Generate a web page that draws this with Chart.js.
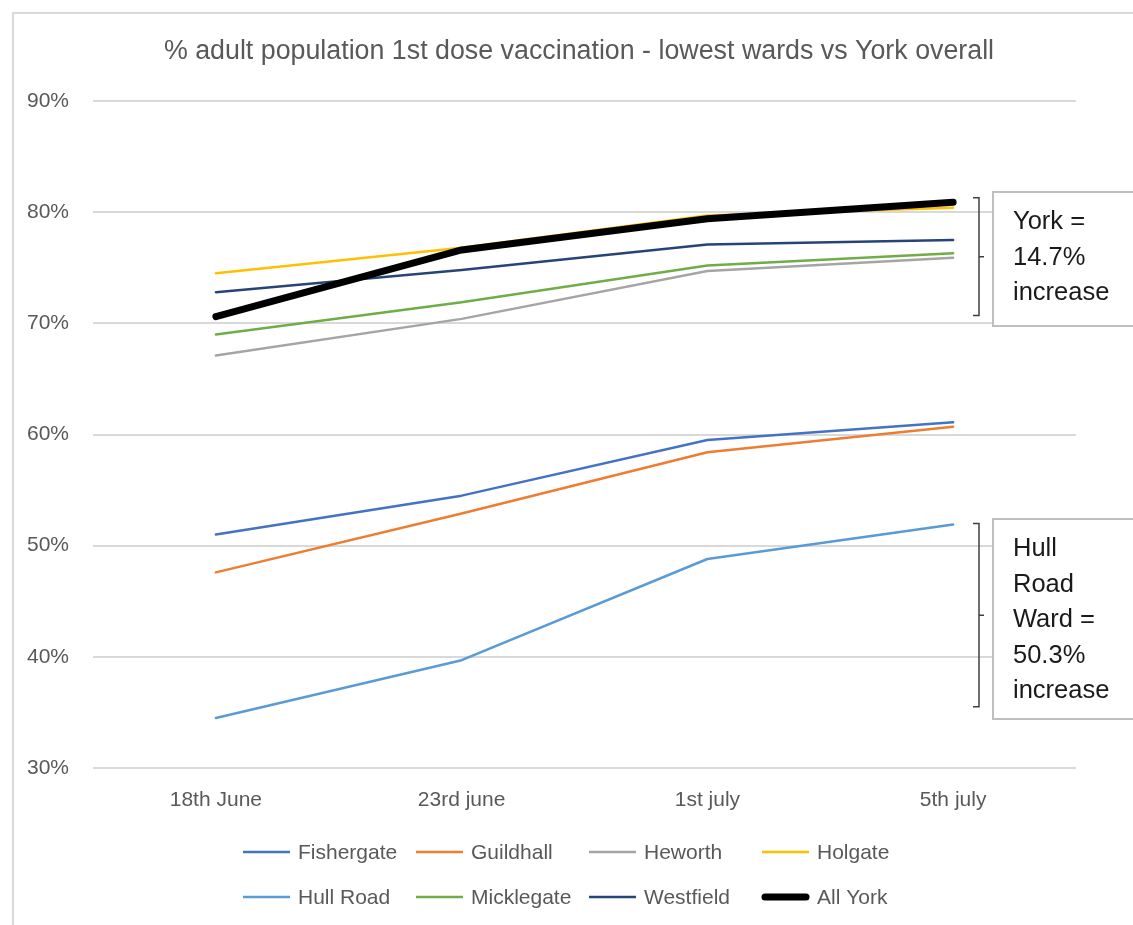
<!DOCTYPE html>
<html>
<head>
<meta charset="utf-8">
<script src="https://cdn.jsdelivr.net/npm/chart.js@4/dist/chart.umd.min.js"></script>
<style>
	html, body { margin:0; padding:0; background:#fff; overflow:hidden; width:1133px; height:925px; }
	#marco { position:absolute; left:12px; top:12px; width:1200px; height:1000px; border-left:2px solid #d9d9d9; border-top:2px solid #d9d9d9; }
	#contenedor { position:absolute; left:0; top:0; width:1133px; height:925px; }
</style>
</head>
<body>
<div id="marco"></div>
<div id="contenedor"><canvas id="chart" width="1133" height="925"></canvas></div>
<script>
	// DATOS
	var fechas = ['18th June', '23rd june', '1st july', '5th july'];
	var fishergate = [51.0, 54.5, 59.5, 61.1];
	var guildhall = [47.6, 52.9, 58.4, 60.7];
	var heworth = [67.1, 70.4, 74.7, 75.9];
	var holgate = [74.5, 76.8, 79.7, 80.4];
	var hullRoad = [34.5, 39.7, 48.8, 51.9];
	var micklegate = [69.0, 71.9, 75.2, 76.3];
	var westfield = [72.8, 74.8, 77.1, 77.5];
	var allYork = [70.6, 76.6, 79.4, 80.9];
	var ticksY = [30, 40, 50, 60, 70, 80, 90];

	var fuente = '"Liberation Sans", Arial, sans-serif';

	function serie(nombre, valores, color, grosor){
		return {
			label: nombre,
			data: valores,
			borderColor: color,
			backgroundColor: color,
			borderWidth: grosor,
			pointRadius: 0,
			tension: 0,
			borderCapStyle: 'round',
			borderJoinStyle: 'round'
		};
	}

	var series = [
		serie('Fishergate', fishergate, '#4472C4', 2.5),
		serie('Guildhall', guildhall, '#ED7D31', 2.5),
		serie('Heworth', heworth, '#A5A5A5', 2.5),
		serie('Holgate', holgate, '#FFC000', 2.5),
		serie('Hull Road', hullRoad, '#5B9BD5', 2.5),
		serie('Micklegate', micklegate, '#70AD47', 2.5),
		serie('Westfield', westfield, '#264478', 2.5),
		serie('All York', allYork, '#000000', 7)
	];
	series[7].order = -1; // la linea de York encima

	// TITULO
	var titulo = {
		id: 'titulo',
		afterDraw: function(chart){
			var ctx = chart.ctx;
			ctx.save();
			ctx.font = '26.8px ' + fuente;
			ctx.fillStyle = '#595959';
			ctx.textAlign = 'center';
			ctx.textBaseline = 'middle';
			ctx.fillText('% adult population 1st dose vaccination - lowest wards vs York overall', 579, 52);
			ctx.restore();
		}
	};

	// LEYENDA (dos filas, cuatro columnas)
	var leyenda = {
		id: 'leyenda',
		afterDraw: function(chart){
			var ctx = chart.ctx;
			ctx.save();
			ctx.font = '21px ' + fuente;
			ctx.textBaseline = 'middle';
			ctx.textAlign = 'left';
			chart.data.datasets.forEach(function(ds, i){
				var x = 243 + (i % 4) * 173;
				var y = 852 + Math.floor(i / 4) * 45;
				var gruesa = ds.borderWidth > 4;
				ctx.strokeStyle = ds.borderColor;
				ctx.lineWidth = ds.borderWidth;
				ctx.lineCap = gruesa ? 'round' : 'butt';
				ctx.beginPath();
				ctx.moveTo(x + (gruesa ? 3 : 0), y);
				ctx.lineTo(x + 47 - (gruesa ? 3 : 0), y);
				ctx.stroke();
				ctx.fillStyle = '#595959';
				ctx.fillText(ds.label, x + 55, y + 1);
			});
			ctx.restore();
		}
	};

	// NOTAS CON LLAVES
	var notas = {
		id: 'notas',
		afterDraw: function(chart){
			var ctx = chart.ctx;
			var y = chart.scales.y;
			var lista = [
				{ desde: 81.3, hasta: 70.7, caja: [192, 326], lineas: ['York =', '14.7%', 'increase'], inicio: 222 },
				{ desde: 52.0, hasta: 35.5, caja: [519, 719], lineas: ['Hull', 'Road', 'Ward =', '50.3%', 'increase'], inicio: 549 }
			];
			ctx.save();
			lista.forEach(function(n){
				var arriba = y.getPixelForValue(n.desde);
				var abajo = y.getPixelForValue(n.hasta);
				var medio = (arriba + abajo) / 2;
				ctx.strokeStyle = '#404040';
				ctx.lineWidth = 1.5;
				ctx.beginPath();
				ctx.moveTo(973, arriba);
				ctx.lineTo(979, arriba);
				ctx.lineTo(979, abajo);
				ctx.lineTo(973, abajo);
				ctx.moveTo(979, medio);
				ctx.lineTo(984, medio);
				ctx.stroke();

				ctx.strokeStyle = '#bfbfbf';
				ctx.lineWidth = 2;
				ctx.fillStyle = '#ffffff';
				ctx.fillRect(993, n.caja[0], 200, n.caja[1] - n.caja[0]);
				ctx.strokeRect(993, n.caja[0], 200, n.caja[1] - n.caja[0]);

				ctx.fillStyle = '#1a1a1a';
				ctx.font = '25.5px ' + fuente;
				ctx.textAlign = 'left';
				ctx.textBaseline = 'middle';
				n.lineas.forEach(function(t, k){
					ctx.fillText(t, 1013, n.inicio + k * 35.5);
				});
			});
			ctx.restore();
		}
	};

	var datos = {
		type: 'line',
		data: {
			labels: fechas,
			datasets: series
		},
		options: {
			responsive: false,
			animation: false,
			devicePixelRatio: 1,
			layout: {
				padding: { top: 101, right: 57, bottom: 0, left: 0 }
			},
			plugins: {
				legend: { display: false },
				tooltip: { enabled: false }
			},
			scales: {
				x: {
					offset: true,
					grid: { display: false, drawTicks: false },
					border: { display: false },
					ticks: { color: '#595959', font: { family: fuente, size: 21 }, padding: 20, maxRotation: 0 },
					afterFit: function(scale){ scale.height = 157; }
				},
				y: {
					min: 30,
					max: 90,
					afterBuildTicks: function(scale){
						scale.ticks = ticksY.map(function(v){ return { value: v }; });
					},
					grid: { color: '#d9d9d9', lineWidth: 2, drawTicks: false },
					border: { display: false },
					ticks: {
						color: '#595959',
						font: { family: fuente, size: 21 },
						padding: 24,
						callback: function(v){ return v + '%'; }
					},
					afterFit: function(scale){ scale.width = 93; }
				}
			}
		},
		plugins: [titulo, leyenda, notas]
	};

	var canvas = document.getElementById('chart').getContext('2d');
	window.grafico = new Chart(canvas, datos);
</script>
</body>
</html>
